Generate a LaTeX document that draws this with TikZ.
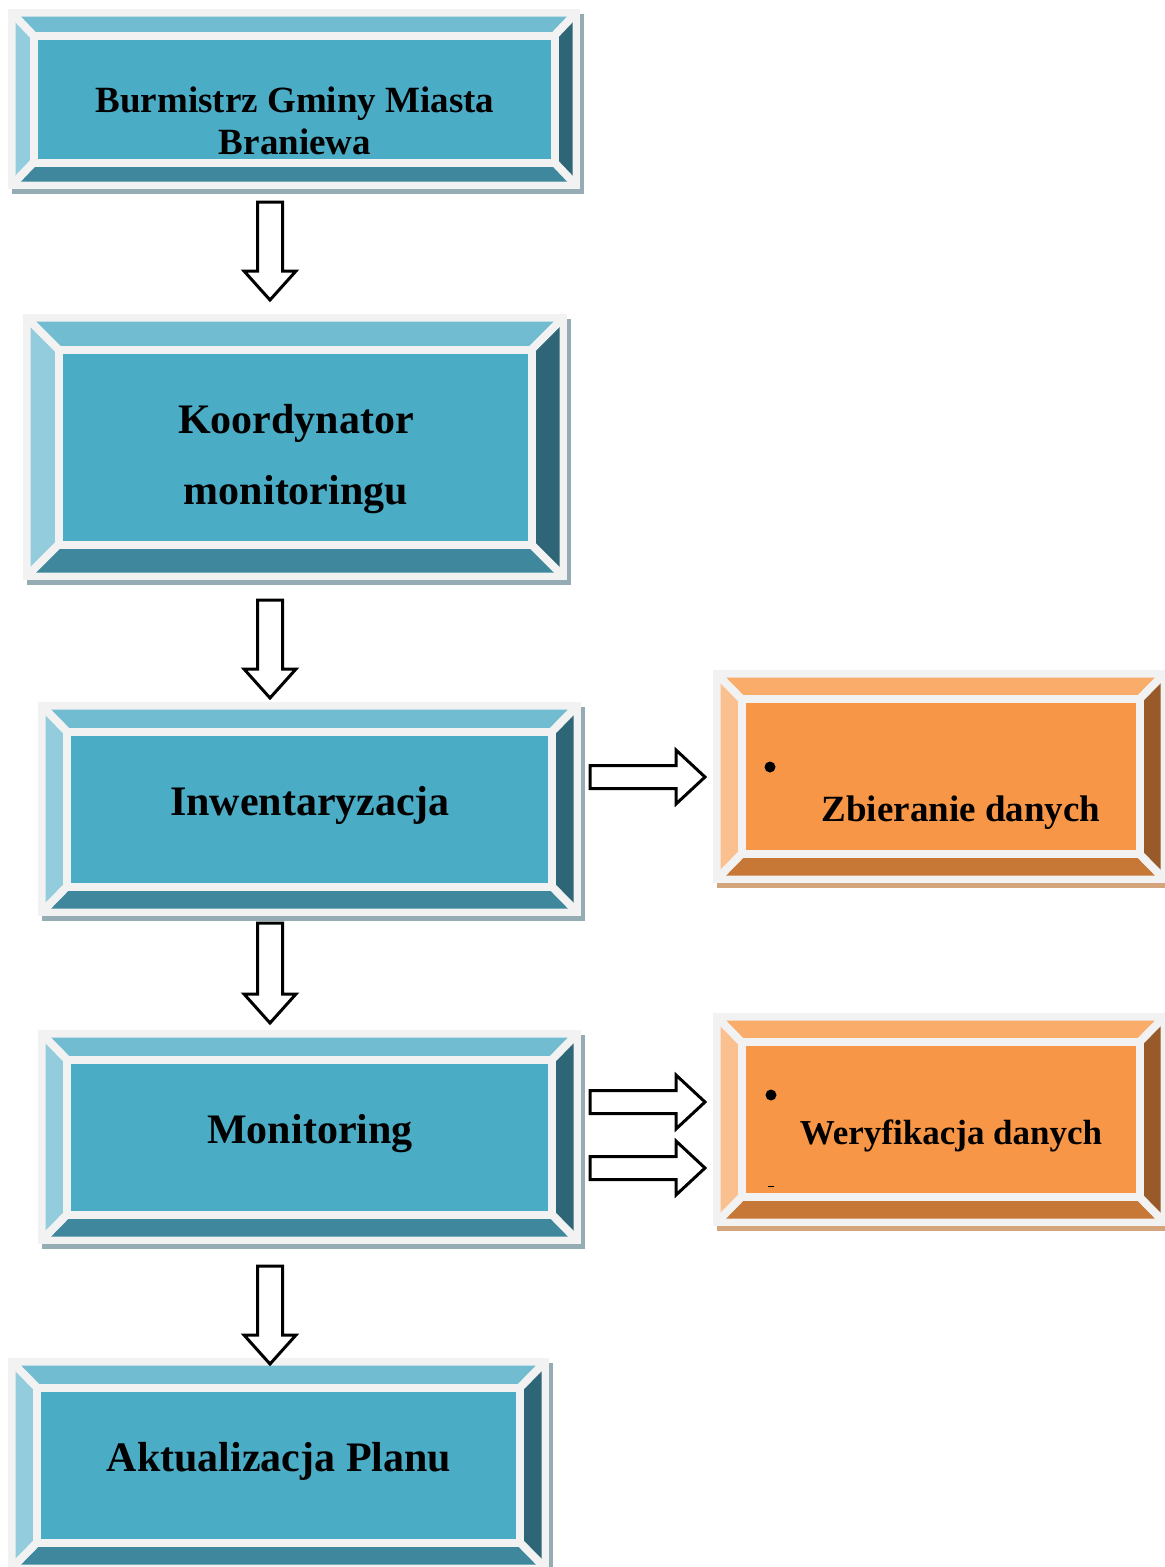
\documentclass[tikz,border=0pt]{standalone}
\usepackage{fontspec}
\setmainfont{Liberation Serif}
\usetikzlibrary{fit}
\definecolor{frameC}{RGB}{242,242,242}
\definecolor{cTTop}{RGB}{113,188,208}
\definecolor{cTLeft}{RGB}{147,205,221}
\definecolor{cTRight}{RGB}{46,102,120}
\definecolor{cTBot}{RGB}{62,135,157}
\definecolor{cTFace}{RGB}{75,172,198}
\definecolor{cTShadow}{RGB}{150,172,180}
\definecolor{cOTop}{RGB}{250,173,106}
\definecolor{cOLeft}{RGB}{250,192,144}
\definecolor{cORight}{RGB}{152,90,40}
\definecolor{cOBot}{RGB}{199,120,54}
\definecolor{cOFace}{RGB}{247,150,70}
\definecolor{cOShadow}{RGB}{212,165,125}
\tikzset{
  blockarr/.style={draw=black, fill=white, line width=3, line join=miter},
  whiteline/.style={draw=frameC, line width=8},
  boxtext/.style={font=\bfseries, inner sep=0, anchor=base},
}
% #1 name, #2 x0, #3 y0, #4 x1, #5 y1, #6 bevel x, #7 bevel y, #8 palette prefix
\newcommand\BevelBox[8]{%
  \pgfmathsetmacro\BBax{#2+7.5}\pgfmathsetmacro\BBay{#3+7.5}%
  \pgfmathsetmacro\BBbx{#4-7.5}\pgfmathsetmacro\BBby{#5-7.5}%
  \pgfmathsetmacro\BBcx{\BBax+#6}\pgfmathsetmacro\BBcy{\BBay+#7}%
  \pgfmathsetmacro\BBdx{\BBbx-#6}\pgfmathsetmacro\BBdy{\BBby-#7}%
  \fill[#8Shadow] (#2+4,#3+5) rectangle (#4+4,#5+5);
  \fill[frameC] (#2,#3) rectangle (#4,#5);
  \fill[#8Top] (\BBax,\BBay) -- (\BBbx,\BBay) -- (\BBdx,\BBcy) -- (\BBcx,\BBcy) -- cycle;
  \fill[#8Left] (\BBax,\BBay) -- (\BBcx,\BBcy) -- (\BBcx,\BBdy) -- (\BBax,\BBby) -- cycle;
  \fill[#8Right] (\BBbx,\BBay) -- (\BBbx,\BBby) -- (\BBdx,\BBdy) -- (\BBdx,\BBcy) -- cycle;
  \fill[#8Bot] (\BBax,\BBby) -- (\BBcx,\BBdy) -- (\BBdx,\BBdy) -- (\BBbx,\BBby) -- cycle;
  \fill[#8Face] (\BBcx,\BBcy) rectangle (\BBdx,\BBdy);
  \draw[whiteline] (\BBax-3,\BBay-3) -- (\BBcx,\BBcy)
                   (\BBbx+3,\BBay-3) -- (\BBdx,\BBcy)
                   (\BBax-3,\BBby+3) -- (\BBcx,\BBdy)
                   (\BBbx+3,\BBby+3) -- (\BBdx,\BBdy);
  \draw[whiteline] (\BBcx,\BBcy) rectangle (\BBdx,\BBdy);
  \path (#2,#3) coordinate (#1-nw) (#4,#5) coordinate (#1-se);
  \node[inner sep=0, fit=(#1-nw)(#1-se)] (#1) {};
}
% down block arrow: #1 x center, #2 top, #3 head base, #4 tip
\newcommand\DownBlock[4]{%
  \draw[blockarr] (#1-12.5,#2) -- (#1+12.5,#2) -- (#1+12.5,#3) -- (#1+26,#3)
    -- (#1,#4) -- (#1-26,#3) -- (#1-12.5,#3) -- cycle;
}
% right block arrow: #1 y center
\newcommand\RightBlock[1]{%
  \draw[blockarr] (590,#1-11.5) -- (676,#1-11.5) -- (676,#1-27) -- (705,#1)
    -- (676,#1+27) -- (676,#1+11.5) -- (590,#1+11.5) -- cycle;
}
\begin{document}
\begin{tikzpicture}[x=1pt,y=-1pt]
\useasboundingbox (0,0) rectangle (1165,1567);
\clip (0,0) rectangle (1165,1567);
\fill[white] (0,0) rectangle (1165,1567);

% boxes
\BevelBox{b1}{8}{9}{580}{189}{18}{19}{cT}
\BevelBox{b2}{23}{314}{567}{580}{28}{28}{cT}
\BevelBox{b3}{38}{702}{581}{916}{21.5}{22}{cT}
\BevelBox{b4}{38}{1030}{581}{1244}{21.5}{22}{cT}
\BevelBox{b5}{8}{1358}{549}{1572}{21.5}{22}{cT}
\BevelBox{o1}{713}{670}{1168}{883}{21}{21.5}{cO}
\BevelBox{o2}{713}{1013}{1168}{1226}{21}{21.5}{cO}

% texts
\node[boxtext, font=\fontsize{37}{42}\selectfont\bfseries] (t1a) at (295,112) {Burmistrz Gminy Miasta};
\node[boxtext, font=\fontsize{37}{42}\selectfont\bfseries] (t1b) at (295,154) {Braniewa};
\node[boxtext, font=\fontsize{42}{50}\selectfont\bfseries] (t2a) at (296,433) {Koordynator};
\node[boxtext, font=\fontsize{42}{50}\selectfont\bfseries] (t2b) at (296,504) {monitoringu};
\node[boxtext, font=\fontsize{42}{50}\selectfont\bfseries] (t3) at (310,815) {Inwentaryzacja};
\node[boxtext, font=\fontsize{42}{50}\selectfont\bfseries] (t4) at (310,1143) {Monitoring};
\node[boxtext, font=\fontsize{42}{50}\selectfont\bfseries] (t5) at (279,1471) {Aktualizacja Planu};
\node[boxtext, font=\fontsize{37}{42}\selectfont\bfseries] (to1) at (961,821) {Zbieranie danych};
\node[boxtext, font=\fontsize{35}{42}\selectfont\bfseries] (to2) at (951,1144) {Weryfikacja danych};

% bullets
\fill[black] (770,767) circle (5.5);
\fill[black] (771,1095) circle (5.5);
\fill[black] (768,1185.5) rectangle (774,1187);

% arrows
\DownBlock{270}{202}{271}{300}
\DownBlock{270}{600}{669}{698}
\DownBlock{270}{923}{994}{1023}
\DownBlock{270}{1266}{1335}{1364}
\RightBlock{777}
\RightBlock{1102}
\RightBlock{1168}
\end{tikzpicture}
\end{document}
